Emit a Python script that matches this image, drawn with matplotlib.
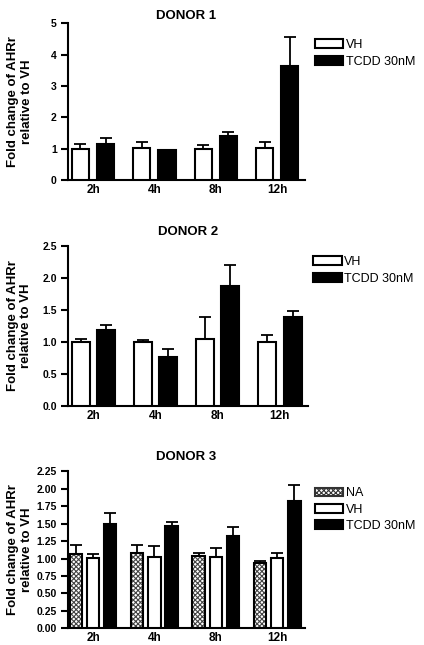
import matplotlib.pyplot as plt
from matplotlib.patches import Patch
import numpy as np

plt.rcParams['font.family'] = ['Liberation Sans', 'DejaVu Sans']
plt.rcParams['hatch.linewidth'] = 0.8

times = ['2h', '4h', '8h', '12h']

d1_vh = [1.0, 1.02, 1.0, 1.03]
d1_vh_err = [0.15, 0.2, 0.12, 0.18]
d1_tcdd = [1.15, 0.95, 1.4, 3.65]
d1_tcdd_err = [0.18, 0.02, 0.13, 0.9]

d2_vh = [1.0, 1.0, 1.05, 1.0]
d2_vh_err = [0.05, 0.03, 0.34, 0.11]
d2_tcdd = [1.19, 0.76, 1.88, 1.39]
d2_tcdd_err = [0.07, 0.13, 0.33, 0.1]

d3_na = [1.07, 1.08, 1.03, 0.94]
d3_na_err = [0.13, 0.11, 0.05, 0.03]
d3_vh = [1.01, 1.02, 1.02, 1.01]
d3_vh_err = [0.05, 0.16, 0.13, 0.07]
d3_tcdd = [1.50, 1.47, 1.33, 1.83]
d3_tcdd_err = [0.16, 0.05, 0.13, 0.22]

ylab = 'Fold change of AHRr\nrelative to VH'
x = np.arange(len(times))

fig = plt.figure(figsize=(4.24, 6.45), dpi=100)


def style(ax, title, ylim, yticks, fmt, tpad):
    for s in ['top', 'right']:
        ax.spines[s].set_visible(False)
    ax.spines['left'].set_linewidth(1.5)
    ax.spines['bottom'].set_linewidth(1.5)
    ax.set_ylim(*ylim)
    ax.set_yticks(yticks)
    ax.set_yticklabels([fmt.format(v) for v in yticks], fontweight='bold', fontsize=7.5)
    ax.tick_params(axis='y', width=1.5, length=5, direction='out', pad=3)
    ax.tick_params(axis='x', length=0, pad=3)
    ax.set_xticks(x)
    ax.set_xticklabels(times, fontweight='bold', fontsize=8.5)
    ax.set_xlim(-0.41, 3.45)
    ax.set_title(title, fontweight='bold', fontsize=9.5, pad=tpad)
    ax.set_ylabel(ylab, fontweight='bold', fontsize=9.5)
    ax.yaxis.set_label_coords(-0.148, 0.5)


def bars(ax, pos, vals, errs, w, kind):
    if kind == 'na':
        ax.bar(pos, vals, w, color='white', hatch='xxxxxxx', edgecolor='#444444', linewidth=0, zorder=2)
        ax.bar(pos, vals, w, fill=False, edgecolor='black', linewidth=1.5, zorder=3)
    elif kind == 'vh':
        ax.bar(pos, vals, w, color='white', edgecolor='black', linewidth=1.5, zorder=3)
    else:
        ax.bar(pos, vals, w, color='black', edgecolor='black', linewidth=1.5, zorder=3)
    ax.errorbar(pos, vals, yerr=[np.zeros(len(vals)), errs], fmt='none', ecolor='black',
                elinewidth=1.3, capsize=4, capthick=1.3, zorder=1)


h_vh = Patch(facecolor='white', edgecolor='black', linewidth=1.5)
h_tc = Patch(facecolor='black', edgecolor='black', linewidth=1.5)
h_na = Patch(facecolor='white', edgecolor='#333333', hatch='xxxxxxx', linewidth=1.5)

# Donor 1
ax1 = fig.add_axes([0.160, 0.721, 0.559, 0.243])
bars(ax1, x - 0.205, d1_vh, d1_vh_err, 0.28, 'vh')
bars(ax1, x + 0.205, d1_tcdd, d1_tcdd_err, 0.28, 'tcdd')
style(ax1, 'DONOR 1', (0, 5), [0, 1, 2, 3, 4, 5], '{:.0f}', 3)
ax1.legend([h_vh, h_tc], ['VH', 'TCDD 30nM'], loc='upper left', bbox_to_anchor=(1.02, 0.93),
           frameon=False, fontsize=9, handlelength=2.3, handleheight=0.7, handletextpad=0.2,
           labelspacing=0.35, borderaxespad=0)

# Donor 2
ax2 = fig.add_axes([0.160, 0.371, 0.566, 0.247])
bars(ax2, x - 0.205, d2_vh, d2_vh_err, 0.29, 'vh')
bars(ax2, x + 0.205, d2_tcdd, d2_tcdd_err, 0.29, 'tcdd')
style(ax2, 'DONOR 2', (0, 2.5), [0, 0.5, 1.0, 1.5, 2.0, 2.5], '{:.1f}', 8)
ax2.legend([h_vh, h_tc], ['VH', 'TCDD 30nM'], loc='upper left', bbox_to_anchor=(1.0, 0.97),
           frameon=False, fontsize=9, handlelength=2.3, handleheight=0.7, handletextpad=0.2,
           labelspacing=0.35, borderaxespad=0)

# Donor 3
ax3 = fig.add_axes([0.160, 0.026, 0.559, 0.243])
bars(ax3, x - 0.28, d3_na, d3_na_err, 0.2, 'na')
bars(ax3, x, d3_vh, d3_vh_err, 0.2, 'vh')
bars(ax3, x + 0.28, d3_tcdd, d3_tcdd_err, 0.2, 'tcdd')
style(ax3, 'DONOR 3', (0, 2.25), [0, 0.25, 0.5, 0.75, 1.0, 1.25, 1.5, 1.75, 2.0, 2.25], '{:.2f}', 8)
ax3.legend([h_na, h_vh, h_tc], ['NA', 'VH', 'TCDD 30nM'], loc='upper left', bbox_to_anchor=(1.02, 0.93),
           frameon=False, fontsize=9, handlelength=2.3, handleheight=0.7, handletextpad=0.2,
           labelspacing=0.35, borderaxespad=0)

fig.savefig('out.png', dpi=100)
